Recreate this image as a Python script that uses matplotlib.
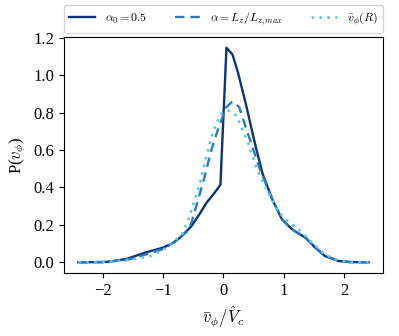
import matplotlib
matplotlib.use("Agg")
import matplotlib.pyplot as plt

plt.rcParams['font.family'] = ['Liberation Serif', 'DejaVu Serif']
plt.rcParams['mathtext.fontset'] = 'cm'

x_a0 = [-2.4, -2.0, -1.87, -1.6, -1.3, -1.1, -1.0, -0.85, -0.72, -0.6, -0.53, -0.4, -0.28, -0.15, -0.05,
        0.05, 0.15, 0.24, 0.37, 0.51, 0.645, 0.81, 0.97, 1.14, 1.36, 1.52, 1.68, 1.90, 2.1, 2.4]
y_a0 = [0, 0.001, 0.004, 0.018, 0.051, 0.069, 0.078, 0.1, 0.131, 0.17, 0.193, 0.255, 0.318, 0.37, 0.414,
        1.147, 1.11, 1.015, 0.847, 0.65, 0.476, 0.334, 0.228, 0.175, 0.131, 0.078, 0.033, 0.007, 0.001, 0]

x_lz = [-2.4, -2.0, -1.6, -1.3, -1.0, -0.8, -0.6, -0.53, -0.42, -0.31, -0.2, -0.1, 0.0, 0.05, 0.15,
        0.26, 0.37, 0.48, 0.6, 0.81, 0.97, 1.14, 1.36, 1.52, 1.68, 1.9, 2.1, 2.4]
y_lz = [0, 0.001, 0.012, 0.04, 0.07, 0.11, 0.165, 0.21, 0.334, 0.458, 0.6, 0.7, 0.79, 0.83, 0.86,
        0.83, 0.72, 0.617, 0.5, 0.334, 0.23, 0.175, 0.13, 0.078, 0.035, 0.008, 0.001, 0]

x_vr = [-2.4, -2.0, -1.87, -1.49, -1.21, -0.89, -0.67, -0.56, -0.39, -0.28, -0.17, -0.05, 0.05, 0.1,
        0.21, 0.32, 0.43, 0.56, 0.7, 0.92, 1.1, 1.25, 1.46, 1.68, 1.9, 2.1, 2.4]
y_vr = [0, 0.001, 0.004, 0.016, 0.033, 0.086, 0.157, 0.246, 0.42, 0.57, 0.70, 0.79, 0.81, 0.81,
        0.785, 0.705, 0.617, 0.49, 0.4, 0.264, 0.21, 0.175, 0.105, 0.04, 0.01, 0.002, 0]

labels = [r'$\alpha_0=0.5$', r'$\alpha=L_z/L_{z,max}$', r'$\bar{v}_\phi(R)$']

fig = plt.figure(figsize=(3.99, 3.36), dpi=100)
ax = fig.add_axes([0.160, 0.1875, 0.800, 0.7025])

ax.plot(x_a0, y_a0, color='#0b3476', lw=1.7, ls='-', label=labels[0])
ax.plot(x_lz, y_lz, color='#2b7bbd', lw=1.7, ls=(0, (4, 2.5)), label=labels[1])
ax.plot(x_vr, y_vr, color='#5cc6f5', lw=1.9, ls=(0, (1, 2)), label=labels[2])

ax.set_yticks([0.0, 0.2, 0.4, 0.6, 0.8, 1.0, 1.2])
ax.set_xticks([-2, -1, 0, 1, 2])
ax.tick_params(labelsize=12)
ax.set_xlabel(r'$\bar{v}_\phi/\hat{V}_c$', fontsize=12)
ax.set_ylabel(r'P($v_\phi$)', fontsize=12)

ax.legend(loc='lower left', bbox_to_anchor=(0, 1.017, 1, 0.1), mode='expand', ncol=3,
          fontsize=8.5, borderaxespad=0, handlelength=2.2, borderpad=0.45, frameon=True)

fig.savefig('out.png', dpi=100)
